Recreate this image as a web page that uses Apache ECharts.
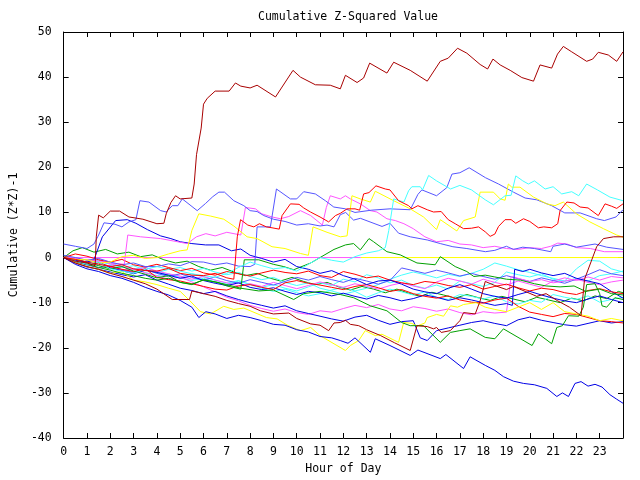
<!DOCTYPE html>
<html><head><meta charset="utf-8">
<script src="https://cdn.jsdelivr.net/npm/echarts@6/dist/echarts.min.js"></script>
<style>html,body{margin:0;padding:0;background:#fff}#c{width:640px;height:480px}</style>
</head><body><div id="c"></div>
<script>
const titleText = 'Cumulative Z-Squared Value';
const xName = 'Hour of Day';
const yName = 'Cumulative (Z*Z)-1';
const xTickLabels = ['0','1','2','3','4','5','6','7','8','9','10','11','12','13','14','15','16','17','18','19','20','21','22','23'];
const yTickValues = [-40,-30,-20,-10,0,10,20,30,40,50];

const darkRedTop = [[0,0],[0.5,-0.8],[1,-1.2],[1.35,-1.8],[1.4,4.6],[1.5,9.4],[1.7,8.8],[2,10.3],[2.4,10.3],[2.8,9],[3.4,8.5],[4,7.5],[4.3,7.6],[4.4,9.7],[4.6,12.2],[4.8,13.7],[5,13],[5.5,13.2],[5.6,16.3],[5.7,22.8],[5.9,28.7],[6,34],[6.16,35.3],[6.5,36.9],[7.1,36.9],[7.37,38.7],[7.6,38],[8,37.6],[8.3,38.2],[9.09,35.6],[9.37,37.8],[9.84,41.5],[10.16,40],[10.8,38.3],[11.44,38.2],[11.87,37.4],[12.09,40.4],[12.59,38.8],[12.87,39.8],[13.13,43.1],[13.87,40.9],[14.16,43.3],[14.87,41.5],[15.6,39.1],[16.16,43.5],[16.5,44.2],[16.9,46.4],[17.3,45.3],[17.87,42.8],[18.19,41.8],[18.42,44],[18.73,42.7],[19.16,41.5],[19.66,39.9],[20.16,39.1],[20.44,42.7],[20.94,42],[21.19,45.1],[21.44,46.8],[21.8,45.6],[22.44,43.5],[22.7,44],[22.94,45.5],[23.37,44.9],[23.73,43.5],[24,45.6]];
const darkRedLow = [[0,0],[0.5,-1.2],[1,-2],[1.5,-2.6],[2,-3.5],[2.5,-4.2],[3,-5],[3.5,-5.8],[4,-7],[4.66,-9.3],[5.4,-9.3],[5.5,-7.4],[6,-8],[6.5,-8.6],[7,-9.5],[7.5,-10.2],[8,-10.8],[8.44,-11.8],[9,-12.5],[9.66,-12.3],[10,-13.5],[10.59,-14.7],[11,-15],[11.37,-16.2],[11.6,-14.5],[11.87,-14.4],[12.09,-13.9],[12.3,-14.8],[12.66,-15.1],[13,-16],[13.6,-17.3],[14.2,-18.9],[14.87,-20.6],[15.16,-15.1],[15.6,-15.3],[15.87,-15.8],[16,-15.5],[16.2,-16.6],[16.59,-16.2],[17,-14],[17.16,-12.2],[17.66,-12.5],[17.87,-9.6],[18.09,-5.3],[18.5,-6.2],[19,-7.1],[19.3,-6.4],[19.8,-7.5],[20.3,-8.6],[20.7,-8],[21.2,-9.6],[21.7,-11],[22.2,-12.9],[22.35,-4.8],[22.87,2.4],[23.16,4.2],[23.6,4.6],[24,4.6]];
const redUpper = [[0,0],[0.5,-0.4],[1,-1],[1.5,-1.5],[2,-2],[2.5,-1.6],[3,-2.5],[3.5,-2.9],[4,-3],[4.5,-2.4],[5,-3.5],[5.5,-3.9],[6,-4],[6.5,-3.5],[7,-4.5],[7.3,-4.8],[7.45,4.6],[7.59,8.4],[7.9,7.2],[8.16,6.8],[8.4,7.5],[8.7,6.8],[8.94,6.6],[9.25,6.3],[9.37,9.3],[9.73,11.9],[10.1,11.8],[10.3,11],[10.59,10.1],[11,9],[11.37,7.9],[11.66,9.3],[11.87,9.8],[12.16,10.8],[12.5,10.8],[12.7,10.5],[12.87,14.1],[13.1,14.4],[13.4,15.9],[13.8,15.2],[14,15],[14.37,12.6],[14.8,11.5],[14.94,10.8],[15.2,11.5],[15.6,10.6],[15.87,10.1],[16.2,10.2],[16.5,8.4],[16.8,7.5],[17.16,6.4],[17.5,6.5],[17.8,6.8],[18.09,5.7],[18.3,4.7],[18.5,5.2],[18.66,6.9],[18.94,8.4],[19.2,8.4],[19.4,7.6],[19.73,8.6],[20,8],[20.37,6.6],[20.6,6.8],[20.94,6.6],[21.2,7.5],[21.3,10.4],[21.59,12.3],[21.9,12.1],[22.16,11.2],[22.5,11],[22.94,9.3],[23.23,11.9],[23.5,11.4],[23.73,10.9],[24,11.9]];
const periwinkleRight = [[0,0.5],[0.5,0],[1,-0.6],[1.5,-0.2],[2,-1],[2.5,-1.6],[3,-1.2],[3.5,-2],[4,-2],[4.5,-1.4],[5,-1.8],[5.5,-0.9],[6,-1],[6.5,-1.6],[7,-1.2],[7.5,-1.9],[8,-2],[8.2,-1.5],[8.3,6.8],[8.87,6.8],[9.13,15.2],[9.73,13],[10,13],[10.3,14.6],[10.8,14.1],[11.23,12.6],[11.59,11.2],[12.09,10.8],[12.5,10],[13.2,10.5],[14,10.8],[14.87,10.6],[15.2,14],[15.37,15],[16,13.7],[16.44,15.5],[16.66,18.5],[17,18.8],[17.4,19.9],[18.1,17.7],[18.66,16.3],[19.3,14.5],[19.8,13.2],[20.3,12.8],[20.94,11.5],[21.5,9.9],[22.16,9.9],[22.87,8.6],[23.2,8.2],[23.7,9],[24,10.6]];
const periwinkleLeft = [[0,3],[0.5,2.5],[1,2],[1.3,3],[1.5,5],[1.73,7.7],[2.2,7.4],[2.5,6.8],[2.8,7.9],[3.1,8.4],[3.27,12.6],[3.66,12.3],[4.16,10.4],[4.4,10.1],[4.66,11.5],[4.9,11.5],[5.09,13],[5.73,10.4],[6.09,12],[6.4,13.5],[6.66,14.5],[6.9,14.5],[7.3,12.6],[7.73,11.5],[8,10.4],[8.3,10.2],[8.59,9.3],[9,8.5],[9.5,8],[10,7.2],[10.5,7.5],[11,7],[11.3,7.2],[11.6,6.8],[11.87,9.5],[12.1,10],[12.44,8.3],[12.73,8.7],[13.66,6.9],[14,7.6],[14.37,5.4],[14.87,4.6],[15.6,3.9],[16.16,3.1],[16.7,2.4],[17.3,2],[18.1,1.3],[18.5,1.6],[19,2.5],[19.3,1.8],[19.7,2.3],[20.2,2],[20.9,1.3],[21,2.5],[21.5,3],[22,2.3],[22.8,3],[23.3,2.3],[24,1.8]];
const periwinkleMid = [[0,0],[0.5,-0.9],[1,-1.6],[1.5,-2.3],[2,-1.8],[2.5,-2.7],[3,-3.3],[3.5,-2.6],[4,-3.5],[4.5,-4.2],[5,-3.6],[5.5,-4.4],[6,-5],[6.5,-4.3],[7,-5.1],[7.5,-5.7],[8,-4.9],[8.5,-5.5],[9,-6.1],[9.5,-5.3],[10,-4.4],[10.5,-5],[11,-4.2],[11.5,-4.9],[12,-5.5],[12.5,-4.6],[13,-5.2],[13.5,-5.9],[14,-5.1],[14.5,-2.3],[15,-2.9],[15.5,-3.5],[16,-2.8],[16.5,-3.4],[17,-4.1],[17.5,-3.5],[18,-4.2],[18.5,-4.8],[19,-4],[19.5,-4.7],[20,-5.3],[20.5,-4.5],[21,-5.1],[21.5,-5.7],[22,-4.8],[22.5,-3.8],[23,-2.7],[23.5,-3.6],[24,-4]];
const cyanUpper = [[0,0],[0.5,-0.8],[1,-1.5],[1.5,-1],[2,-2.5],[2.5,-3],[3,-3.5],[3.5,-2.6],[4,-2],[4.5,-2.6],[5,-3],[5.5,-3.6],[6,-4],[6.5,-4.4],[7,-3.5],[7.5,-2.2],[8,-1],[8.5,-1.8],[9,-2.5],[9.5,-2.2],[10,-3],[10.5,-1.5],[11,0],[11.5,-0.6],[12,-1],[12.5,0.2],[13,1],[13.5,1.5],[13.8,2.2],[13.95,6],[14.16,13],[14.6,12.3],[14.8,14.8],[14.94,15.7],[15.3,15.7],[15.4,15],[15.66,18.2],[16,17],[16.6,15.2],[17,16],[17.5,15],[18.09,12.8],[18.44,11.7],[18.94,13.7],[19.2,13.8],[19.4,18.1],[19.7,17],[19.94,16.3],[20.2,17],[20.66,15.2],[21,15.7],[21.37,14.1],[21.8,14.6],[22.1,13.7],[22.44,16.3],[22.9,15],[23.44,13.4],[24,12.6]];
const yellowUpper = [[0,0],[0.5,-0.4],[1,-0.5],[1.5,-1.2],[2,-1],[2.5,0.2],[3,0.5],[3.5,-0.2],[4,0],[4.5,0.8],[5,1.5],[5.3,1.7],[5.5,6],[5.8,9.7],[6.3,9.2],[6.87,8.5],[7.3,7],[7.87,4.6],[8.3,4.2],[8.94,2.4],[9.5,2],[10.16,0.9],[10.5,0.5],[10.7,6.8],[11.3,5.6],[11.87,4.6],[12.16,4.8],[12.37,13.7],[12.73,13],[13.16,12.3],[13.37,14.7],[14.16,12.6],[14.87,10.8],[15.44,9],[16,6.2],[16.16,8.4],[16.87,5.9],[17.16,8.2],[17.66,9],[17.87,14.5],[18.44,14.5],[18.73,13],[18.94,12.7],[19.08,16.3],[19.23,15.6],[19.58,15.6],[20.16,13.4],[20.73,11.9],[21.08,11.5],[21.44,12.3],[22,9.7],[22.58,7.9],[23.16,6.4],[23.73,5],[24,4.5]];
const blueBottom = [[0,0],[0.5,-1.5],[1,-2.5],[1.5,-3.1],[2,-4],[2.5,-4.6],[3,-5.5],[3.5,-6.6],[4,-7.5],[4.5,-8.3],[5,-9.5],[5.5,-11],[5.8,-13.3],[6.1,-12],[6.5,-12.5],[7,-13.5],[7.5,-12.8],[8,-13.3],[8.5,-14],[9,-14.8],[9.5,-15],[10,-16],[10.5,-16.5],[11,-17.5],[11.5,-17.8],[11.87,-18.4],[12.2,-19],[12.5,-17.8],[13.16,-21],[13.37,-18],[14,-19.5],[14.87,-21.7],[15.2,-20.5],[16.16,-22.4],[16.4,-21.5],[17.16,-24.6],[17.44,-22],[18.09,-23.9],[18.5,-25],[18.87,-26.4],[19.3,-27.4],[19.73,-27.9],[20.2,-28.2],[20.73,-29],[21.16,-30.8],[21.4,-30],[21.66,-30.8],[21.94,-27.9],[22.2,-27.5],[22.5,-28.5],[22.8,-28.1],[23.1,-28.7],[23.44,-30.4],[23.73,-31.4],[24,-32.3]];
const magentaUpper = [[0,0],[0.5,-0.2],[1,-0.5],[1.5,-0.9],[2,-1.2],[2.6,-1.5],[2.75,5],[3.3,4.6],[4.16,4.2],[5.3,3.1],[5.7,4.6],[6.1,5.3],[6.5,4.8],[7,5.6],[7.6,5],[7.66,4.6],[7.8,11.1],[8.23,10.8],[8.5,9.7],[8.94,9],[9.3,8.6],[9.66,9.1],[10.16,10.4],[10.6,9.3],[11.1,7.2],[11.27,11.1],[11.44,13.7],[11.87,13],[12.09,13.7],[12.3,13],[12.73,11.9],[13.16,10.4],[13.44,10.1],[13.87,8.6],[14.23,8.2],[14.6,7.5],[15,6.4],[15.5,4.6],[16,3.5],[16.5,3.8],[17,3],[17.5,2.8],[18,2.2],[18.5,2.5],[19,2],[19.5,1.8],[20,2.2],[20.5,2],[20.9,2.5],[21.2,3.2],[21.6,3],[22,2.2],[22.6,2],[23.2,1.3],[24,1.3]];
const magentaMid = [[0,0],[0.5,-0.4],[1,-1],[1.5,-0.5],[2,-1.4],[2.5,-2],[3,-2.7],[3.5,-2.2],[4,-3],[4.5,-3.6],[5,-4.1],[5.5,-4.8],[6,-4.2],[6.5,-5],[7,-5.6],[7.5,-6.3],[8,-5.8],[8.5,-6.4],[9,-5.5],[9.5,-6.2],[10,-6.9],[10.5,-6.2],[11,-5.4],[11.5,-6],[12,-6.6],[12.5,-5.8],[13,-6.4],[13.5,-7],[14,-6.2],[14.5,-5.6],[15,-6.3],[15.5,-6.9],[16,-5.4],[16.5,-4.6],[17,-5.2],[17.5,-5.9],[18,-4.8],[18.5,-5.5],[19,-6.1],[19.5,-5.2],[20,-5.9],[20.5,-6.6],[21,-5.2],[21.5,-4.5],[22,-5.1],[22.5,-4.3],[23,-5],[23.5,-4.2],[24,-4.5]];
const magentaLow = [[0,0],[0.5,-0.8],[1,-1.6],[1.5,-1.2],[2,-2.1],[2.5,-2.9],[3,-2.5],[3.5,-3.4],[4,-4.1],[4.5,-4.8],[5,-4.3],[5.5,-5.4],[6,-6.5],[6.5,-7.6],[7,-8.8],[7.5,-9.6],[8,-10.6],[8.5,-11.3],[9,-11.9],[9.5,-11.4],[10,-12.2],[10.5,-12.6],[11,-11.8],[11.5,-12.1],[12,-11.3],[12.5,-10.6],[13,-11.1],[13.5,-10.4],[14,-11.4],[14.5,-11.8],[15,-10.9],[15.5,-11.3],[16,-11.9],[16.5,-11.4],[17,-12.2],[17.5,-12.7],[18,-12],[18.5,-12.3],[19,-12.1],[19.2,-4.2],[19.5,-4.6],[20,-5.3],[20.5,-4.9],[21,-5.6],[21.5,-5.2],[22,-4.8],[22.5,-5.5],[23,-6],[23.5,-5.4],[24,-5]];
const blueUpperLeft = [[0,0],[0.5,-0.6],[1,-1],[1.3,-0.5],[1.66,4.6],[2.23,8.2],[2.73,8.4],[3.1,7.6],[3.59,6.2],[4.16,4.8],[4.6,4.2],[5,3.5],[5.5,3.1],[6.09,2.8],[6.66,2.8],[7.2,1.5],[7.6,1.9],[8,0.5],[8.5,-0.2],[9,-1],[9.5,-0.4],[10,-2],[10.5,-2.6],[11,-3.5],[11.5,-2.9],[12,-4],[12.5,-4.8],[13,-6],[13.5,-5.2],[14,-5],[14.5,-5.9],[15,-7],[15.5,-7.6],[16,-8],[16.5,-6.8],[17,-6],[17.5,-7],[18,-8],[18.5,-8.6],[19,-9],[19.5,-8.2],[20,-7.5],[20.5,-8.3],[21,-9],[21.5,-9.6],[22,-10],[22.5,-9.2],[23,-8.5],[23.5,-9.3],[24,-10]];
const greenJump = [[0,0],[0.5,-0.8],[1,-1.5],[1.5,-2.2],[2,-2.8],[2.5,-3.5],[3,-4],[3.5,-4.6],[4,-5],[4.5,-4.6],[5,-5.5],[5.5,-5.9],[6,-5],[6.6,-5.5],[7,-6.3],[7.6,-7],[7.75,-0.5],[8.37,-0.5],[9,-1.5],[9.44,-2],[9.87,-2.7],[10.6,-1.2],[11,0],[11.6,1.8],[12.09,2.8],[12.44,3.1],[12.73,1.7],[13.1,4.2],[13.3,3.5],[13.87,1.3],[14.44,0.6],[15.16,-1.2],[15.94,-1.6],[16.16,0.2],[16.8,-2],[17.3,-3.1],[17.6,-4.2],[18.09,-3.9],[18.5,-4.3],[19,-4.8],[19.6,-5],[20.2,-5.8],[20.7,-6.3],[21.3,-6.5],[21.9,-6.3],[22.4,-7.5],[23,-7],[23.5,-8],[24,-8.3]];
const greenLow = [[0,0],[0.5,-0.4],[1,-1],[1.5,-1.8],[2,-2.5],[2.5,-2],[3,-3],[3.5,-3.7],[4,-4.5],[4.5,-4],[5,-5.5],[5.5,-6],[6,-4.9],[6.5,-5.4],[7,-6],[7.6,-6.8],[8.37,-7.4],[9,-7.2],[9.87,-9.3],[10.3,-8],[11,-7.5],[11.87,-8.2],[12.44,-8.9],[13.16,-10.7],[13.87,-11.8],[14.5,-14.4],[14.87,-15.1],[15.44,-15.1],[16.16,-18.8],[16.59,-16.6],[17,-16.2],[17.44,-15.8],[18.09,-17.7],[18.5,-18],[18.87,-15.8],[20.1,-19.5],[20.37,-16.9],[20.94,-19.1],[21.16,-15.5],[21.4,-15.1],[21.66,-12.9],[22.1,-13],[22.3,-11],[22.44,-6],[22.8,-5.8],[23,-8],[23.1,-10.7],[23.3,-11],[23.65,-8.9],[24,-9.3]];
const greenMid = [[0,0],[0.4,1.5],[0.8,2.2],[1.3,1.2],[1.8,1.8],[2.3,0.8],[2.8,1.2],[3.3,0.2],[3.8,0.6],[4.3,-0.5],[4.8,-1.2],[5.3,-0.8],[5.8,-2],[6.3,-2.8],[6.8,-2.2],[7.3,-3.2],[7.8,-4],[8.3,-3.5],[8.8,-4.5],[9.3,-5.2],[9.8,-4.4],[10.3,-5.3],[10.8,-6],[11.3,-5.5],[11.8,-6.5],[12.3,-7.2],[12.8,-6.4],[13.3,-7],[13.8,-7.8],[14.3,-7],[14.8,-7.9],[15.3,-8.6],[15.8,-7.7],[16.3,-8.3],[16.8,-9],[17.3,-8.2],[17.8,-8.9],[18.3,-9.5],[18.8,-8.6],[19.3,-9.2],[19.8,-9.8],[20.3,-8.8],[20.8,-9.4],[21.3,-10],[21.8,-9],[22.3,-9.6],[22.8,-8.5],[23.3,-9.1],[23.8,-7.5],[24,-7.8]];
const yellowLow = [[0,0],[0.5,-1.1],[1,-2],[1.5,-2.6],[2,-3.5],[2.5,-3.1],[3,-5],[3.5,-5.4],[4,-6],[4.5,-6.8],[5,-7.5],[5.4,-9.5],[5.87,-12],[6.3,-12.5],[6.87,-10.8],[7.3,-11.5],[7.73,-11.2],[8.7,-13.3],[9.16,-13.6],[9.6,-15],[10.16,-16.2],[10.6,-15.5],[11,-17.3],[12.09,-20.6],[12.3,-19.5],[12.66,-18.4],[12.94,-16.2],[13.37,-17.3],[13.66,-17],[14.37,-18.8],[14.59,-14.4],[14.94,-14.6],[15.16,-15.2],[15.5,-14.5],[15.6,-13.3],[16,-12.6],[16.3,-13],[16.6,-10.7],[16.9,-11],[17.16,-10.4],[17.7,-10],[18.09,-11],[18.5,-11.5],[19,-12],[19.5,-11],[20,-10],[20.5,-11.5],[21,-10],[21.5,-12],[22,-12.5],[22.5,-13],[23,-14],[23.5,-13.5],[24,-14]];
const redLow = [[0,0],[0.5,-0.9],[1,-1.5],[1.5,-1.1],[2,-2],[2.5,-2.6],[3,-3.1],[3.5,-2.5],[4,-4.4],[4.5,-4.9],[5,-5.2],[5.5,-5.8],[6,-6.4],[6.5,-7],[7,-7.2],[7.5,-6.3],[8,-6],[8.5,-6.6],[9,-7.1],[9.5,-5.6],[10,-5.1],[10.5,-5.7],[11,-6.1],[11.5,-6.6],[12,-7.1],[12.5,-6.4],[13,-6],[13.5,-6.7],[14,-7.5],[14.5,-7.1],[15,-8],[15.5,-8.6],[16,-9],[16.5,-8.5],[17,-9.4],[17.5,-9.9],[18,-10.1],[18.5,-9.4],[19,-9],[19.5,-10.8],[20,-12.1],[20.5,-12.6],[21,-13.1],[21.5,-12.4],[22,-12.6],[22.5,-13.3],[23,-14],[23.5,-14.2],[24,-14.5]];
const redMid = [[0,0],[0.5,0.8],[1,0.3],[1.5,-0.5],[2,-1],[2.5,-0.4],[3,-1.6],[3.5,-2.1],[4,-1.5],[4.5,-2.2],[5,-2.9],[5.5,-2.4],[6,-3.4],[6.5,-3.9],[7,-3.1],[7.5,-3.6],[8,-4.1],[8.5,-3.4],[9,-2.8],[9.5,-3.3],[10,-3.6],[10.5,-3],[11,-4],[11.5,-4.4],[12,-3.1],[12.5,-3.7],[13,-4.5],[13.5,-4.1],[14,-5],[14.5,-5.6],[15,-6],[15.5,-5.3],[16,-5.6],[16.5,-6.2],[17,-6.6],[17.5,-6],[18,-7],[18.5,-6.4],[19,-5.9],[19.5,-6.7],[20,-7.4],[20.5,-6.8],[21,-7.1],[21.5,-7.8],[22,-8.2],[22.5,-7.3],[23,-6.9],[23.5,-7.6],[24,-8]];
const blueLow = [[0,0],[0.5,-1.2],[1,-2.1],[1.5,-2.6],[2,-3.2],[2.5,-3.8],[3,-4.3],[3.5,-3.8],[4,-5],[4.5,-5.9],[5,-6.8],[5.5,-7.3],[6,-8],[6.5,-7.5],[7,-8.5],[7.5,-9.3],[8,-10],[8.5,-10.6],[9,-11.2],[9.5,-10.7],[10,-11.8],[10.5,-12.4],[11,-13],[11.5,-13.6],[12,-14.1],[12.5,-13.2],[13,-12.8],[13.5,-13.9],[14,-14.8],[14.5,-14.2],[15,-14],[15.3,-17.8],[15.6,-18.4],[16,-16.2],[16.5,-15.6],[17,-15],[17.5,-14.4],[18,-14],[18.5,-14.6],[19,-15.1],[19.5,-13.8],[20,-13.2],[20.5,-13.9],[21,-14.4],[21.5,-14.9],[22,-15.2],[22.5,-14.6],[23,-14],[23.5,-14.5],[24,-14.2]];
const blueJump = [[0,0],[0.5,-0.9],[1,-1.6],[1.5,-1.1],[2,-2.3],[2.5,-2.9],[3,-3.6],[3.5,-2.8],[4,-3.3],[4.5,-3.9],[5,-4.6],[5.5,-4.1],[6,-5.1],[6.5,-5.7],[7,-6.2],[7.5,-5.6],[8,-6.6],[8.5,-7.1],[9,-6.7],[9.5,-7.5],[10,-8.2],[10.5,-7.5],[11,-7.8],[11.5,-8.5],[12,-7.9],[12.5,-8.6],[13,-9.2],[13.5,-8.4],[14,-8.9],[14.5,-9.6],[15,-9.1],[15.5,-8.3],[16,-8.8],[16.5,-9.5],[17,-8.9],[17.5,-9.4],[18,-10],[18.5,-10.6],[19,-10.2],[19.25,-10.6],[19.35,-2.6],[19.7,-3.1],[20,-2.6],[20.5,-3.4],[21,-4],[21.5,-3.5],[22,-4.6],[22.5,-5.2],[23,-5.8],[23.5,-7.5],[24,-9]];
const cyanMid = [[0,0],[0.5,-1],[1,-1.6],[1.5,-1.2],[2,-2.2],[2.5,-2.9],[3,-2.4],[3.5,-3.3],[4,-4],[4.5,-3.6],[5,-4.5],[5.5,-5.1],[6,-4.6],[6.5,-5.4],[7,-6],[7.5,-5.2],[8,-5.9],[8.5,-6.6],[9,-6],[9.5,-6.8],[10,-7.4],[10.5,-6.5],[11,-5.6],[11.5,-6.2],[12,-4.8],[12.5,-5.4],[13,-3.8],[13.5,-4.5],[14,-5.6],[14.5,-5],[15,-6.2],[15.5,-6.8],[16,-6.1],[16.5,-7],[17,-5.2],[17.5,-5.8],[18,-6.4],[18.5,-5.5],[19,-3.2],[19.5,-3.8],[20,-4.3],[20.5,-3.6],[21,-4.8],[21.5,-5.3],[22,-4.6],[22.5,-5.2],[23,-4],[23.5,-3.6],[24,-3]];
const cyanLow = [[0,0],[0.5,-0.6],[1,-1.2],[1.5,-0.6],[2,-1.5],[2.5,-2.2],[3,-1.8],[3.5,-2.8],[4,-3.4],[4.5,-2.6],[5,-2.2],[5.5,-3],[6,-2.4],[6.5,-3.2],[7,-3.8],[7.5,-3.3],[8,-4.2],[8.5,-4.9],[9,-4.4],[9.5,-5.5],[10,-6.2],[10.5,-5.6],[11,-6.8],[11.5,-7.4],[12,-8.1],[12.5,-7.5],[13,-8.8],[13.5,-7.8],[14,-7],[14.5,-7.6],[15,-8.3],[15.5,-7.6],[16,-8.8],[16.5,-9.3],[17,-8.2],[17.5,-8.6],[18,-9.2],[18.5,-8.5],[19,-9.8],[19.5,-10.3],[20,-9.5],[20.5,-9.9],[21,-8.2],[21.5,-8.8],[22,-9.3],[22.5,-8.5],[23,-9.9],[23.5,-9.3],[24,-8.8]];
const cyanExtra = [[0,0],[0.5,-0.5],[1,-1.1],[1.5,-1.7],[2,-1.2],[2.5,-2],[3,-2.6],[3.5,-2.1],[4,-3.2],[4.5,-3.8],[5,-4.4],[5.5,-3.6],[6,-4.3],[6.5,-5],[7,-5.7],[7.5,-5.1],[8,-6],[8.5,-6.8],[9,-7.5],[9.5,-7],[10,-7.8],[10.5,-8.5],[11,-8],[11.5,-7.2],[12,-6.6],[12.5,-7.4],[13,-6.8],[13.5,-6],[14,-4.8],[14.5,-3.9],[15,-3.2],[15.5,-3.8],[16,-4.5],[16.5,-3.7],[17,-4.2],[17.5,-3.5],[18,-2.6],[18.5,-1.2],[19,-1.9],[19.5,-2.7],[20,-3.3],[20.5,-4],[21,-4.6],[21.5,-5.2],[22,-2.5],[22.5,-0.6],[23,-0.8],[23.5,-2.5],[24,-3.2]];
const magentaFlat = [[0,0],[12.75,0]];
const yellowFlat = [[12.75,0],[24,0]];

const C = {dr:'#a80000', r:'#ff0000', b:'#0000e6', pb:'#5555ff', g:'#00a000', y:'#ffff00', c:'#44ffff', m:'#ff55ff'};
const seriesList = [
  ['yellowFlat', yellowFlat, C.y], ['magentaFlat', magentaFlat, C.m],
  ['greenMid', greenMid, C.g], ['cyanLow', cyanLow, C.c], ['cyanMid', cyanMid, C.c], ['cyanExtra', cyanExtra, C.c],
  ['magentaMid', magentaMid, C.m], ['periwinkleMid', periwinkleMid, C.pb],
  ['magentaLow', magentaLow, C.m], ['blueJump', blueJump, C.b], ['blueLow', blueLow, C.b],
  ['redMid', redMid, C.r], ['redLow', redLow, C.r], ['yellowLow', yellowLow, C.y],
  ['greenLow', greenLow, C.g], ['greenJump', greenJump, C.g], ['blueUpperLeft', blueUpperLeft, C.b],
  ['magentaUpper', magentaUpper, C.m], ['periwinkleLeft', periwinkleLeft, C.pb],
  ['periwinkleRight', periwinkleRight, C.pb], ['yellowUpper', yellowUpper, C.y], ['cyanUpper', cyanUpper, C.c],
  ['redUpper', redUpper, C.r], ['blueBottom', blueBottom, C.b], ['darkRedLow', darkRedLow, C.dr],
  ['darkRedTop', darkRedTop, C.dr]
];

const font = 'DejaVu Sans Mono';
const txt = {fontFamily: font, fontSize: 11.5, color: '#000'};
const chart = echarts.init(document.getElementById('c'), null, {renderer: 'canvas'});
const axisCommon = {
  type: 'value', min: 0, max: 24, interval: 1,
  axisLine: {show: true, onZero: false, lineStyle: {color: '#000', width: 1}},
  axisTick: {show: true, inside: true, length: 5, lineStyle: {color: '#000'}},
  splitLine: {show: false}
};
const yCommon = {
  type: 'value', min: -40, max: 50, interval: 10,
  axisLine: {show: true, onZero: false, lineStyle: {color: '#000', width: 1}},
  axisTick: {show: true, inside: true, length: 5, lineStyle: {color: '#000'}},
  splitLine: {show: false}
};
chart.setOption({
  animation: false,
  backgroundColor: '#fff',
  title: {text: titleText, left: 343, top: 6, textAlign: 'center', textStyle: {fontFamily: font, fontSize: 11.5, fontWeight: 'normal', color: '#000'}},
  grid: {left: 63, right: 17, top: 32, bottom: 37},
  xAxis: [
    Object.assign({}, axisCommon, {position: 'bottom', name: xName, nameLocation: 'middle', nameGap: 25, nameTextStyle: txt,
      axisLabel: Object.assign({}, txt, {margin: 8, formatter: v => (v < 24 ? xTickLabels[v] : '')})}),
    Object.assign({}, axisCommon, {position: 'top', axisLabel: {show: false}})
  ],
  yAxis: [
    Object.assign({}, yCommon, {position: 'left', name: yName, nameLocation: 'middle', nameGap: 36, nameTextStyle: txt,
      axisLabel: Object.assign({}, txt, {margin: 12, formatter: v => (yTickValues.indexOf(v) >= 0 ? String(v) : '')})}),
    Object.assign({}, yCommon, {position: 'right', axisLabel: {show: false}})
  ],
  series: seriesList.map(s => ({
    name: s[0], type: 'line', data: s[1], showSymbol: false, symbol: 'none',
    lineStyle: {color: s[2], width: 1}, itemStyle: {color: s[2]}, silent: true
  }))
});
</script></body></html>
